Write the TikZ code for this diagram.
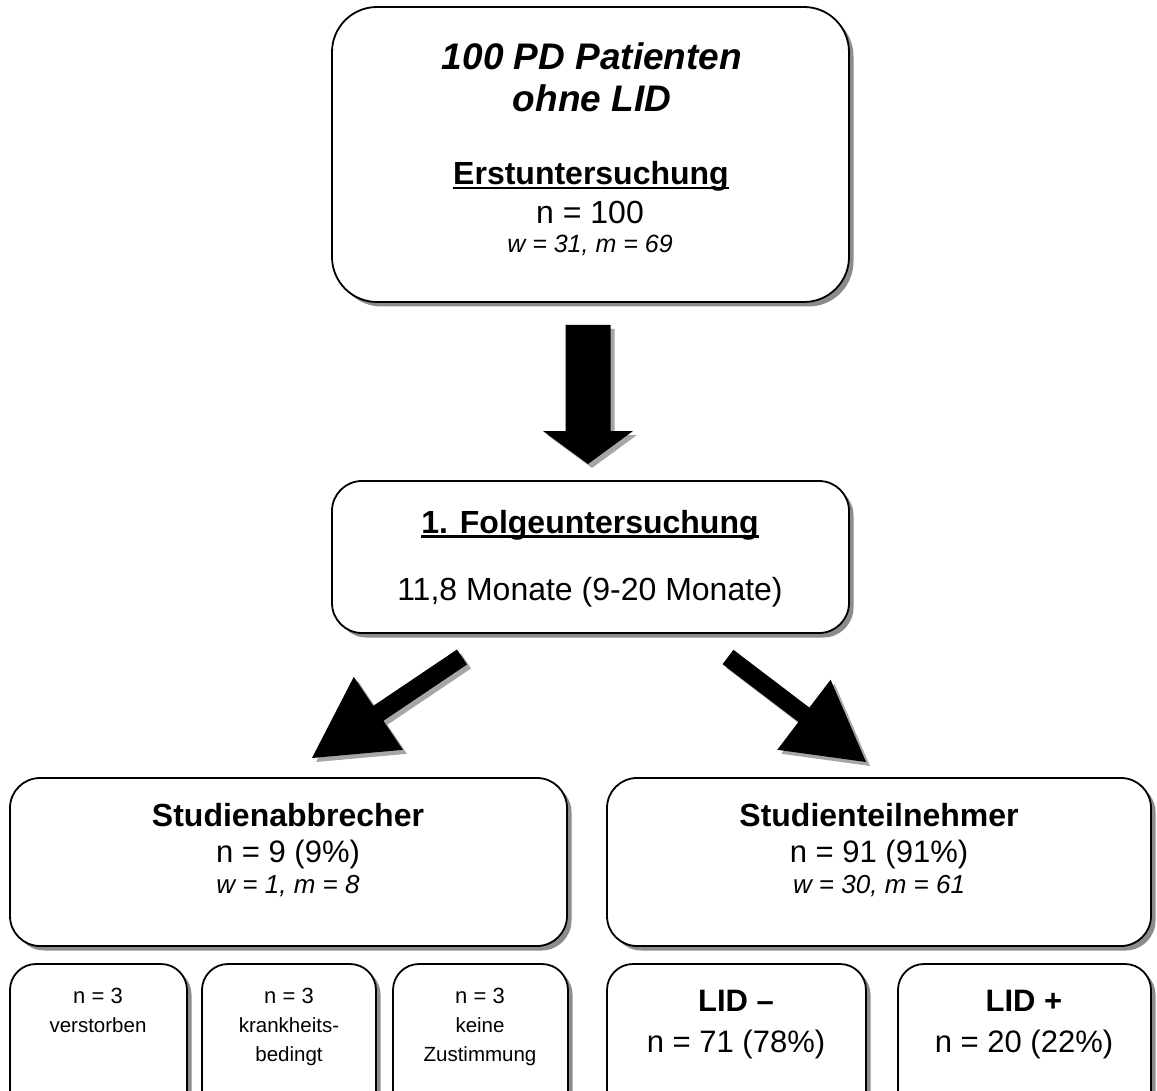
\documentclass[tikz,border=0pt]{standalone}
\usepackage{fontspec}
\setmainfont{Liberation Sans}
\usetikzlibrary{shadows,calc}
\newcommand\myul[1]{\setbox0\hbox{#1}\rlap{\rule[-4.5pt]{\wd0}{2.8pt}}\box0}
\newcommand\fs[1]{\fontsize{#1}{#1}\selectfont}
\newcommand\barrow[6]{%
  \coordinate (bc) at ($(#2)!#5!(#1)$);
  \path[#6] ($(#1)!#3!90:(#2)$) -- ($(bc)!#3!90:(#2)$) -- ($(bc)!#4!90:(#2)$) -- (#2)
     -- ($(bc)!#4!-90:(#2)$) -- ($(bc)!#3!-90:(#2)$) -- ($(#1)!#3!-90:(#2)$) -- cycle;}
\begin{document}
\begin{tikzpicture}[x=1pt,y=-1pt,
  box/.style={draw=black, line width=1.8pt, fill=white, inner sep=0pt,
    drop shadow={shadow xshift=4.5pt, shadow yshift=-4.5pt, fill=black!45, opacity=1}},
  txt/.style={anchor=base, inner sep=0pt},
  arrowshadow/.style={fill=black!35, transform canvas={shift={(4pt,-4pt)}}},
  arrowbody/.style={fill=black}]
\path[use as bounding box, clip] (0,0) rectangle (1157,1091);
\fill[white] (0,0) rectangle (1157,1091);

% boxes
\node[box, rounded corners=45pt, minimum width=517pt, minimum height=295pt] (top) at (590.5,154.5) {};
\node[box, rounded corners=30pt, minimum width=517pt, minimum height=152pt] (mid) at (590.5,557) {};
\node[box, rounded corners=30pt, minimum width=557pt, minimum height=168pt] (abb) at (288.5,862) {};
\node[box, rounded corners=30pt, minimum width=544pt, minimum height=168pt] (teil) at (879,862) {};
\node[box, rounded corners=26pt, minimum width=177pt, minimum height=160pt] (s1) at (98.5,1044) {};
\node[box, rounded corners=26pt, minimum width=174pt, minimum height=160pt] (s2) at (289,1044) {};
\node[box, rounded corners=26pt, minimum width=175pt, minimum height=160pt] (s3) at (480.5,1044) {};
\node[box, rounded corners=26pt, minimum width=259pt, minimum height=160pt] (lm) at (736.5,1044) {};
\node[box, rounded corners=26pt, minimum width=253pt, minimum height=160pt] (lp) at (1024.5,1044) {};

% arrows
\coordinate (dT) at (588,325);
\coordinate (dP) at (588,464);
\coordinate (lT) at (462,657);
\coordinate (lP) at (312,758);
\coordinate (rT) at (728,657);
\coordinate (rP) at (866,762);
\barrow{dT}{dP}{22.5pt}{45pt}{33pt}{arrowshadow}
\barrow{dT}{dP}{22.5pt}{45pt}{33pt}{arrowbody}
\barrow{lT}{lP}{9pt}{44pt}{80pt}{arrowshadow}
\barrow{lT}{lP}{9pt}{44pt}{80pt}{arrowbody}
\barrow{rT}{rP}{9pt}{44pt}{78pt}{arrowshadow}
\barrow{rT}{rP}{9pt}{44pt}{78pt}{arrowbody}

% texts top
\node[txt, font=\fs{37}\bfseries\itshape] (t1) at (592,70) {100 PD Patienten};
\node[txt, font=\fs{37}\bfseries\itshape] (t2) at (592,112) {ohne LID};
\node[txt, font=\fs{32}\bfseries] (t3) at (591,185) {\myul{Erstuntersuchung}};
\node[txt, font=\fs{32}] (t4) at (590,224) {n = 100};
\node[txt, font=\fs{25}\itshape] (t5) at (590,253) {w = 31, m = 69};
% middle
\node[txt, font=\fs{32}\bfseries] (f1) at (590,533) {\myul{1. Folgeuntersuchung}};
\node[txt, font=\fs{32}] (f2) at (590,600) {11,8 Monate (9-20 Monate)};
% left big
\node[txt, font=\fs{32}\bfseries] (a1) at (288,826) {Studienabbrecher};
\node[txt, font=\fs{31}] (a2) at (288,862) {n = 9 (9\%)};
\node[txt, font=\fs{26}\itshape] (a3) at (288,893) {w = 1, m = 8};
% right big
\node[txt, font=\fs{32}\bfseries] (b1) at (879,826) {Studienteilnehmer};
\node[txt, font=\fs{31}] (b2) at (879,862) {n = 91 (91\%)};
\node[txt, font=\fs{26}\itshape] (b3) at (879,893) {w = 30, m = 61};
% small boxes
\node[txt, font=\fs{22}] (s1a) at (98,1003) {n = 3};
\node[txt, font=\fs{20.5}] (s1b) at (98,1032) {verstorben};
\node[txt, font=\fs{22}] (s2a) at (289,1003) {n = 3};
\node[txt, font=\fs{20.5}] (s2b) at (289,1032) {krankheits-};
\node[txt, font=\fs{20.5}] (s2c) at (289,1061) {bedingt};
\node[txt, font=\fs{22}] (s3a) at (480,1003) {n = 3};
\node[txt, font=\fs{20.5}] (s3b) at (480,1032) {keine};
\node[txt, font=\fs{20.5}] (s3c) at (480,1061) {Zustimmung};
% LID
\node[txt, font=\fs{31}\bfseries] (l1) at (736,1011) {LID –};
\node[txt, font=\fs{31}] (l2) at (736,1052) {n = 71 (78\%)};
\node[txt, font=\fs{31}\bfseries] (r1) at (1024,1011) {LID +};
\node[txt, font=\fs{31}] (r2) at (1024,1052) {n = 20 (22\%)};
\end{tikzpicture}
\end{document}
